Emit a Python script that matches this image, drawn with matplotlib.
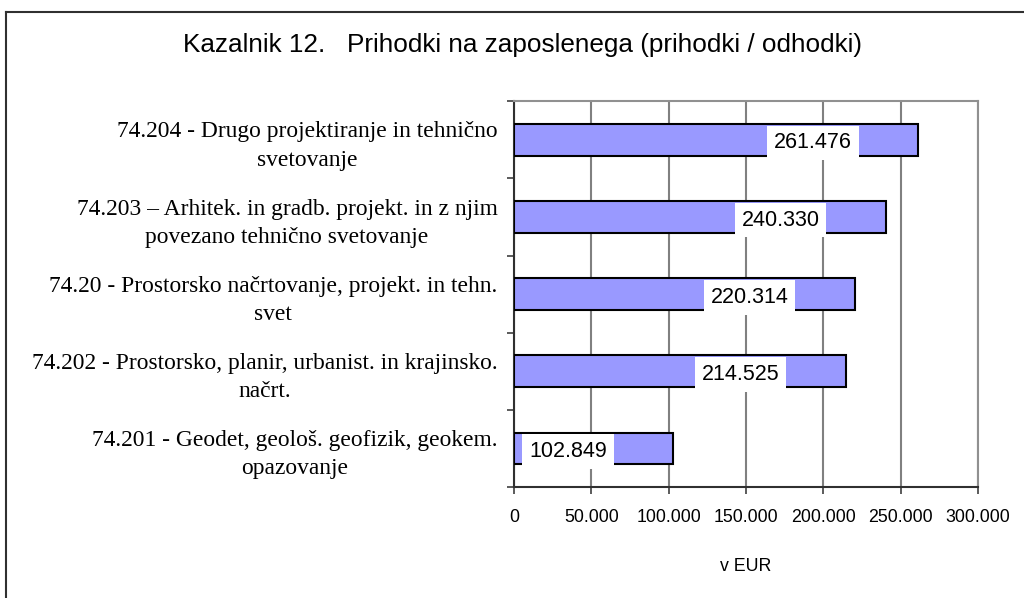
'''Kazalnik 12 - prihodki na zaposlenega'''

import numpy as np
import matplotlib.pyplot as plt
from matplotlib.lines import Line2D

categories = ['74.204 - Drugo projektiranje in tehnično\nsvetovanje',
              '74.203 – Arhitek. in gradb. projekt. in z njim\npovezano tehnično svetovanje',
              '74.20 - Prostorsko načrtovanje, projekt. in tehn.\nsvet',
              '74.202 - Prostorsko, planir, urbanist. in krajinsko.\nnačrt.',
              '74.201 - Geodet, geološ. geofizik, geokem.\nopazovanje']
values = [261476, 240330, 220314, 214525, 102849]
value_labels = ['261.476', '240.330', '220.314', '214.525', '102.849']
xticks = [0, 50000, 100000, 150000, 200000, 250000, 300000]
xtick_labels = ['0', '50.000', '100.000', '150.000', '200.000', '250.000', '300.000']

plt.rcParams['font.family'] = ['Liberation Sans', 'DejaVu Sans']

fig = plt.figure(figsize=(10.24, 5.98), dpi=100)
ax = fig.add_axes([0.502, 0.1856, 0.453, 0.645])

y = np.arange(len(values))
ax.barh(y, values, height=0.41, color='#9999FF', edgecolor='black', lw=1.5, zorder=3)

# data labels on white boxes
for yi, v, s in zip(y, values, value_labels):
    ax.text(v - 68000, yi + 0.04, s, ha='center', va='center', fontsize=15.5, zorder=5,
            bbox=dict(facecolor='white', edgecolor='none', pad=5))

ax.set_xlim(0, 300000)
ax.set_ylim(len(values) - 0.5, -0.5)
ax.set_xticks(xticks)
ax.set_xticklabels(xtick_labels, fontsize=12.8)
ax.set_yticks(y)
ax.set_yticklabels(categories, fontsize=16.9, linespacing=1.45,
                   family=['Liberation Serif', 'DejaVu Serif'])
for lbl in ax.get_yticklabels():
    lbl.set_multialignment('center')
ax.set_yticks(np.arange(len(values) + 1) - 0.5, minor=True)
ax.tick_params(axis='y', which='major', length=0, pad=12)
ax.tick_params(axis='y', which='minor', length=5, width=1.2, direction='out', color='#404040')
ax.tick_params(axis='x', length=5, width=1.2, direction='out', pad=11, color='#404040')

ax.grid(axis='x', color='#808080', lw=1.5, zorder=0)
ax.set_axisbelow(True)

for side in ['left', 'bottom']:
    ax.spines[side].set_color('#303030')
    ax.spines[side].set_linewidth(1.5)
for side in ['top', 'right']:
    ax.spines[side].set_color('#909090')
    ax.spines[side].set_linewidth(1.5)

ax.set_xlabel('v EUR', fontsize=12.8, labelpad=23)

fig.text(0.51, 0.925, 'Kazalnik 12.   Prihodki na zaposlenega (prihodki / odhodki)',
         ha='center', va='center', fontsize=18.8)

# outer frame (only left and top visible)
fig.add_artist(Line2D([0.006, 0.006], [-0.1, 1 - 12 / 598], transform=fig.transFigure,
                      color='#303030', lw=1.5))
fig.add_artist(Line2D([0.006, 1.1], [1 - 12 / 598, 1 - 12 / 598], transform=fig.transFigure,
                      color='#303030', lw=1.5))

plt.savefig('out.png', dpi=100)
